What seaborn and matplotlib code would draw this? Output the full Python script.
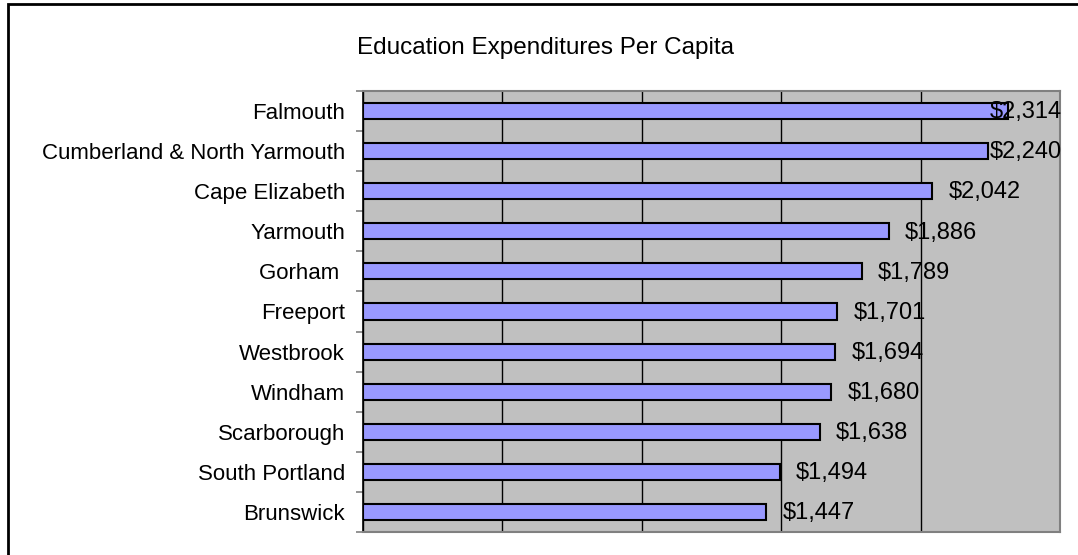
import matplotlib
matplotlib.use("Agg")
import matplotlib.pyplot as plt
import seaborn as sns
import pandas as pd
from matplotlib.patches import Rectangle
from matplotlib.ticker import FixedLocator

towns = ["Falmouth", "Cumberland & North Yarmouth", "Cape Elizabeth", "Yarmouth",
         "Gorham ", "Freeport", "Westbrook", "Windham", "Scarborough",
         "South Portland", "Brunswick"]
spending = [2314, 2240, 2042, 1886, 1789, 1701, 1694, 1680, 1638, 1494, 1447]
value_labels = ["$2,314", "$2,240", "$2,042", "$1,886", "$1,789", "$1,701",
                "$1,694", "$1,680", "$1,638", "$1,494", "$1,447"]
title = "Education Expenditures Per Capita"

sns.set_style("white")
plt.rcParams["font.family"] = ["Liberation Sans", "DejaVu Sans"]

df = pd.DataFrame({"town": towns, "value": spending})

fig = plt.figure(figsize=(10.78, 5.55), dpi=100)
ax = fig.add_axes([363 / 1078, 1 - 532 / 555, (1060 - 363) / 1078, (532 - 91) / 555])
ax.set_facecolor("#C0C0C0")

sns.barplot(data=df, y="town", x="value", orient="h", color="#9999FF",
            saturation=1, width=0.4, edgecolor="black", linewidth=1.5, ax=ax)

xmax = 2500
ax.set_xlim(0, xmax)
ax.set_ylim(len(towns) - 0.5, -0.5)
ax.set_xticks([0, 500, 1000, 1500, 2000, 2500])
ax.set_xticklabels([])
ax.tick_params(axis="x", length=0)
ax.grid(axis="x", color="black", linewidth=1)
ax.set_axisbelow(True)
ax.set_xlabel("")
ax.set_ylabel("")

ax.tick_params(axis="y", which="major", length=0, pad=13, labelsize=16, labelcolor="black")
ax.yaxis.set_minor_locator(FixedLocator([i - 0.5 for i in range(len(towns) + 1)]))
ax.tick_params(axis="y", which="minor", length=5, width=1.2, color="#808080", left=True)

for side in ["top", "right", "bottom"]:
    ax.spines[side].set_visible(True)
    ax.spines[side].set_color("#808080")
    ax.spines[side].set_linewidth(1.5)
ax.spines["left"].set_color("black")
ax.spines["left"].set_linewidth(1.2)

# value labels
fig.canvas.draw()
renderer = fig.canvas.get_renderer()
gap = 58
for i, (v, lab) in enumerate(zip(spending, value_labels)):
    t = ax.text(v + gap, i + 0.03, lab, ha="left", va="center", fontsize=17, color="black")
    bb = t.get_window_extent(renderer=renderer)
    x_end = ax.transData.inverted().transform((bb.x1, bb.y0))[0]
    if x_end > xmax + 8:
        t.set_x(xmax + 8)
        t.set_ha("right")

fig.text(546 / 1078, 1 - 48 / 555, title, ha="center", va="center", fontsize=17.5, color="black")

fig.patches.append(Rectangle((8 / 1078, -0.05), 1.2, 1 - 4 / 555 + 0.05,
                             transform=fig.transFigure, fill=False,
                             edgecolor="black", linewidth=2, zorder=10))

fig.savefig("out.png", dpi=100)
